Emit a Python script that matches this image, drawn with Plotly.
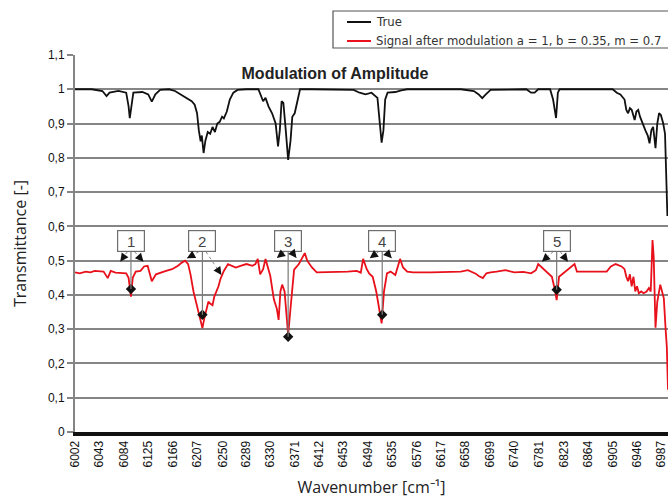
import plotly.graph_objects as go

# ---------------- data ----------------
true_wn = [6002, 6030, 6048, 6055, 6060, 6075, 6088, 6092, 6094, 6097, 6100, 6115, 6125, 6131, 6137,
           6145, 6160, 6170, 6180, 6190, 6198, 6203, 6207, 6210, 6213, 6215, 6218, 6221, 6225, 6229,
           6233, 6237, 6241, 6245, 6249, 6252, 6257, 6262, 6268, 6275, 6290, 6310, 6314, 6318, 6322,
           6327, 6333, 6339, 6343, 6346, 6349, 6352, 6356, 6360, 6364, 6367, 6371, 6375, 6380, 6400,
           6450, 6470, 6480, 6490, 6500, 6510, 6514, 6517, 6520, 6523, 6527, 6540, 6550, 6560, 6650,
           6672, 6680, 6686, 6692, 6700, 6760, 6768, 6774, 6780, 6800, 6805, 6810, 6813, 6816, 6905,
           6912, 6918, 6925, 6928, 6931, 6934, 6937, 6940, 6942, 6945, 6948, 6951, 6956, 6960, 6964,
           6967, 6970, 6973, 6975, 6977, 6980, 6983, 6986, 6990, 6993, 6995, 6997]
true_val = [1.0, 1.0, 0.995, 0.98, 0.99, 0.995, 0.99, 0.95, 0.916, 0.96, 0.99, 0.992, 0.985, 0.964, 0.985,
            0.998, 1.0, 0.995, 0.985, 0.975, 0.965, 0.955, 0.93, 0.88, 0.848, 0.865, 0.814, 0.85, 0.875, 0.87,
            0.89, 0.875, 0.9, 0.905, 0.92, 0.915, 0.935, 0.97, 0.99, 0.998, 1.0, 1.0, 0.985, 0.965, 0.975,
            0.95, 0.93, 0.9, 0.833, 0.88, 0.965, 0.96, 0.88, 0.794, 0.85, 0.92, 0.93, 0.96, 1.0, 1.0,
            1.0, 0.998, 0.99, 0.985, 0.99, 0.975, 0.9, 0.844, 0.88, 0.97, 0.99, 0.992, 0.997, 1.0, 1.0,
            0.995, 0.985, 0.974, 0.985, 0.998, 1.0, 0.99, 0.99, 1.0, 1.0, 0.97, 0.916, 0.99, 1.0, 1.0,
            0.99, 0.985, 0.97, 0.94, 0.93, 0.945, 0.94, 0.92, 0.91, 0.935, 0.94, 0.92, 0.895, 0.88, 0.865,
            0.842, 0.88, 0.89, 0.86, 0.828, 0.9, 0.93, 0.925, 0.9, 0.87, 0.727, 0.63]

sig_wn = [6002, 6010, 6020, 6028, 6035, 6043, 6050, 6057, 6062, 6070, 6080, 6088, 6092, 6096, 6099,
          6104, 6112, 6118, 6124, 6131, 6138, 6145, 6155, 6165, 6175, 6182, 6187, 6192, 6196, 6201,
          6205, 6209, 6212, 6216, 6219, 6222, 6226, 6229, 6233, 6236, 6240, 6243, 6246, 6252, 6259,
          6265, 6272, 6280, 6290, 6300, 6305, 6309, 6313, 6318, 6322, 6330, 6336, 6341, 6344, 6347,
          6350, 6354, 6360, 6365, 6370, 6378, 6384, 6388, 6392, 6400, 6408, 6420, 6440, 6460, 6475,
          6482, 6486, 6492, 6496, 6502, 6508, 6513, 6517, 6521, 6526, 6532, 6540, 6548, 6553, 6560,
          6570, 6600, 6640, 6650, 6662, 6675, 6680, 6687, 6693, 6700, 6710, 6725, 6740, 6755, 6768,
          6776, 6780, 6786, 6795, 6803, 6808, 6811, 6815, 6825, 6833, 6841, 6845, 6860, 6880, 6895,
          6902, 6910, 6920, 6925, 6928, 6931, 6934, 6937, 6940, 6943, 6946, 6949, 6953, 6957, 6962,
          6966, 6969, 6972, 6974, 6976, 6977, 6980, 6985, 6988, 6991, 6994, 6996, 6998]
sig_val = [0.466, 0.463, 0.468, 0.466, 0.47, 0.468, 0.468, 0.449, 0.47, 0.465, 0.463, 0.463, 0.45, 0.395, 0.45,
           0.468, 0.47, 0.483, 0.485, 0.44, 0.46, 0.465, 0.47, 0.475, 0.485, 0.495, 0.5, 0.49, 0.46, 0.41,
           0.38, 0.356, 0.33, 0.303, 0.33, 0.35, 0.38, 0.375, 0.37, 0.395, 0.41, 0.425, 0.445, 0.47, 0.49,
           0.485, 0.48, 0.485, 0.49, 0.485, 0.49, 0.505, 0.46, 0.475, 0.505, 0.455, 0.387, 0.36, 0.327, 0.41,
           0.43, 0.41, 0.283, 0.38, 0.474, 0.49, 0.51, 0.522, 0.5, 0.48, 0.466, 0.466, 0.466, 0.468, 0.47,
           0.465, 0.505, 0.475, 0.463, 0.453, 0.41, 0.35, 0.317, 0.41, 0.463, 0.468, 0.458, 0.505, 0.48, 0.468,
           0.466, 0.466, 0.466, 0.468, 0.472, 0.462, 0.455, 0.449, 0.463, 0.466, 0.468, 0.472, 0.466, 0.467, 0.463,
           0.472, 0.49, 0.48, 0.466, 0.453, 0.415, 0.385, 0.453, 0.468, 0.478, 0.49, 0.468, 0.468, 0.468, 0.468,
           0.483, 0.49, 0.483, 0.475, 0.453, 0.44, 0.46, 0.425, 0.453, 0.41, 0.425, 0.405, 0.41, 0.405, 0.41,
           0.42, 0.41, 0.56, 0.51, 0.35, 0.304, 0.38, 0.43, 0.41, 0.39, 0.3, 0.249, 0.123]

series_names = ["True", "Signal after modulation a = 1, b = 0.35, m = 0.7"]
series_colors = ["#111111", "#e8101a"]

peak_labels = ["1", "2", "3", "4", "5"]
peak_wn = [6096, 6216, 6360, 6518, 6811]
peak_marker_val = [0.417, 0.342, 0.278, 0.342, 0.415]
arrow_left_wn = [6078, 6190, 6341, 6497, 6786]
arrow_left_val = [0.497, 0.507, 0.508, 0.507, 0.497]
arrow_right_wn = [6117, 6248, 6374, 6534, 6830]
arrow_right_val = [0.497, 0.458, 0.508, 0.507, 0.497]
box_val = 0.558
box_bottom_val = 0.526

tick_wn = [6002, 6043, 6084, 6125, 6166, 6207, 6250, 6289, 6330, 6371, 6412, 6453, 6494,
           6535, 6576, 6617, 6658, 6699, 6740, 6781, 6823, 6864, 6905, 6946, 6987]
y_ticks = [0, 0.1, 0.2, 0.3, 0.4, 0.5, 0.6, 0.7, 0.8, 0.9, 1.0, 1.1]
y_tick_text = ["0", "0,1", "0,2", "0,3", "0,4", "0,5", "0,6", "0,7", "0,8", "0,9", "1", "1,1"]

# ---------------- figure ----------------
W, H = 668, 498
ML, MR, MT, MB = 75, 0, 55, 66
X0, X1 = 6002, 6998
Y0, Y1 = 0, 1.1
PW, PH = W - ML - MR, H - MT - MB
pxx = PW / (X1 - X0)
pxy = PH / (Y1 - Y0)


def px_to_paper_x(px):
    return (px - ML) / PW


def py_to_paper_y(py):
    return (H - MB - py) / PH


fig = go.Figure()
fig.add_trace(go.Scatter(x=true_wn, y=true_val, mode="lines", name=series_names[0], showlegend=False,
                         line=dict(color=series_colors[0], width=1.8)))
fig.add_trace(go.Scatter(x=sig_wn, y=sig_val, mode="lines", name=series_names[1], showlegend=False,
                         line=dict(color=series_colors[1], width=1.8)))

shapes = []
annotations = []
for i, lab in enumerate(peak_labels):
    pw = peak_wn[i]
    shapes.append(dict(type="line", xref="x", yref="y", x0=pw, x1=pw,
                       y0=box_bottom_val, y1=peak_marker_val[i],
                       line=dict(color="#7a7a7a", width=1.2)))
    annotations.append(dict(x=pw, y=box_val, xref="x", yref="y", text=lab, showarrow=False,
                            xanchor="center", yanchor="middle",
                            font=dict(family="Liberation Sans, Arial", size=15, color="#444444"),
                            bgcolor="white", bordercolor="#6e6e6e", borderwidth=1.2,
                            width=26, height=20, borderpad=0))
    for (hw, hv, sgn) in [(arrow_left_wn[i], arrow_left_val[i], -1),
                          (arrow_right_wn[i], arrow_right_val[i], 1)]:
        tw, tv = pw + sgn * 6, box_bottom_val
        shapes.append(dict(type="line", xref="x", yref="y", x0=tw, y0=tv, x1=hw, y1=hv,
                           line=dict(color="#8a8a8a", width=1, dash="dot")))
        dxp = (hw - tw) * pxx
        dyp = (hv - tv) * pxy
        L = (dxp ** 2 + dyp ** 2) ** 0.5
        annotations.append(dict(x=hw, y=hv, xref="x", yref="y", text="", showarrow=True,
                                ax=-dxp / L * 7, ay=dyp / L * 7, axref="pixel", ayref="pixel",
                                arrowhead=2, arrowsize=1.1, arrowwidth=1.5, arrowcolor="#111111"))

fig.add_trace(go.Scatter(x=peak_wn, y=peak_marker_val, mode="markers", showlegend=False,
                         marker=dict(symbol="diamond", size=8, color="#111111")))

# ----- legend box drawn like the original (top right, running off the edge) -----
leg_left, leg_top, leg_bottom = 333, 11, 48
shapes.append(dict(type="rect", xref="paper", yref="paper",
                   x0=px_to_paper_x(leg_left), x1=px_to_paper_x(W + 10),
                   y0=py_to_paper_y(leg_bottom), y1=py_to_paper_y(leg_top),
                   fillcolor="white", line=dict(color="#555555", width=1.2)))
for k, (nm, col) in enumerate(zip(series_names, series_colors)):
    yy = py_to_paper_y(22 + 19 * k)
    shapes.append(dict(type="line", xref="paper", yref="paper",
                       x0=px_to_paper_x(347), x1=px_to_paper_x(371), y0=yy, y1=yy,
                       line=dict(color=col, width=2)))
    annotations.append(dict(x=px_to_paper_x(374), y=yy, xref="paper", yref="paper", text=nm,
                            showarrow=False, xanchor="left", yanchor="middle",
                            font=dict(family="DejaVu Sans", size=11.7, color="#333333")))

fig.update_layout(
    width=W, height=H,
    margin=dict(l=ML, r=MR, t=MT, b=MB),
    paper_bgcolor="white", plot_bgcolor="white",
    showlegend=False,
    shapes=shapes, annotations=annotations,
    title=dict(text="<b>Modulation of Amplitude</b>", x=335 / W, xanchor="center",
               y=1 - 73 / H, yanchor="middle",
               font=dict(family="Liberation Sans, Arial", size=16, color="#222222")),
    xaxis=dict(range=[X0, X1], tickmode="array", tickvals=tick_wn,
               ticktext=[str(t) for t in tick_wn], tickangle=-90, ticklabeloverflow="allow",
               tickfont=dict(family="Liberation Sans, Arial", size=12, color="#111111"),
               showgrid=False, zeroline=False, showline=True, linecolor="#111111", linewidth=4,
               ticks="", title=dict(text="Wavenumber [cm⁻¹]", standoff=17,
                                    font=dict(family="Open Sans", size=16, color="#222222"))),
    yaxis=dict(range=[Y0, Y1], tickmode="array", tickvals=y_ticks, ticktext=y_tick_text,
               tickfont=dict(family="Liberation Sans, Arial", size=12, color="#111111"),
               showgrid=True, gridcolor="#858585", gridwidth=1.6, zeroline=False,
               showline=True, linecolor="#858585", linewidth=2, ticks="outside", ticklen=6,
               tickcolor="#858585", tickwidth=1.6,
               title=dict(text="Transmittance [-]", standoff=17,
                          font=dict(family="Open Sans", size=16, color="#222222"))),
)

fig.write_html("out.html")
